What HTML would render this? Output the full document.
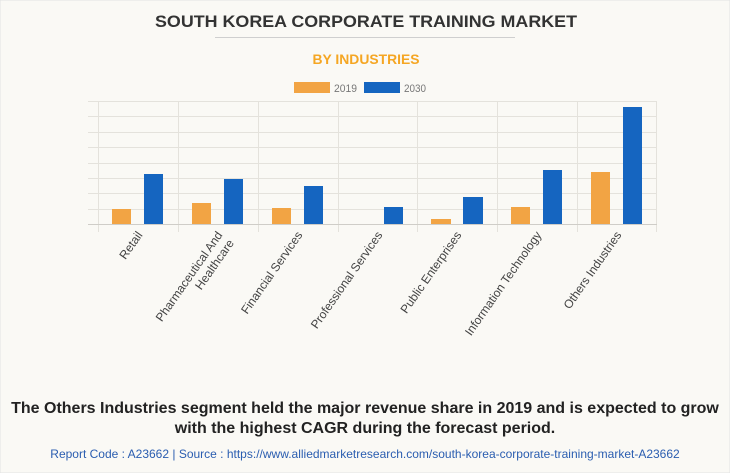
<!DOCTYPE html>
<html><head><meta charset="utf-8"><style>
body{margin:0;background:#fff}
svg{display:block}
text{font-family:"Liberation Sans",Arial,sans-serif}
</style></head><body>
<svg width="730" height="473" viewBox="0 0 730 473" xmlns="http://www.w3.org/2000/svg">
<rect x="0" y="0" width="730" height="473" fill="#faf9f5" stroke="#e2e2e2"/>
<text x="366" y="27" text-anchor="middle" font-size="17" font-weight="bold" fill="#333" textLength="422" lengthAdjust="spacingAndGlyphs">SOUTH KOREA CORPORATE TRAINING MARKET</text>
<line x1="215" y1="37.5" x2="515" y2="37.5" stroke="#cfcfcf" stroke-width="1"/>
<text x="366" y="64" text-anchor="middle" font-size="14" font-weight="bold" fill="#f5a623" textLength="107" lengthAdjust="spacingAndGlyphs">BY INDUSTRIES</text>
<rect x="294" y="82" width="36" height="11" fill="#f2a444"/>
<text x="334" y="92" font-size="11" fill="#777" textLength="23" lengthAdjust="spacingAndGlyphs">2019</text>
<rect x="364" y="82" width="36" height="11" fill="#1565c0"/>
<text x="404" y="92" font-size="11" fill="#777" textLength="22" lengthAdjust="spacingAndGlyphs">2030</text>
<g stroke="#e4e2dc" stroke-width="1">
<line x1="88" y1="101.5" x2="657" y2="101.5"/>
<line x1="88" y1="116.5" x2="657" y2="116.5"/>
<line x1="88" y1="132.5" x2="657" y2="132.5"/>
<line x1="88" y1="147.5" x2="657" y2="147.5"/>
<line x1="88" y1="163.5" x2="657" y2="163.5"/>
<line x1="88" y1="178.5" x2="657" y2="178.5"/>
<line x1="88" y1="193.5" x2="657" y2="193.5"/>
<line x1="88" y1="209.5" x2="657" y2="209.5"/>
<line x1="98.5" y1="101" x2="98.5" y2="232"/>
<line x1="178.5" y1="101" x2="178.5" y2="232"/>
<line x1="258.5" y1="101" x2="258.5" y2="232"/>
<line x1="338.5" y1="101" x2="338.5" y2="232"/>
<line x1="417.5" y1="101" x2="417.5" y2="232"/>
<line x1="497.5" y1="101" x2="497.5" y2="232"/>
<line x1="577.5" y1="101" x2="577.5" y2="232"/>
<line x1="656.5" y1="101" x2="656.5" y2="232"/>
</g>
<line x1="88" y1="224.5" x2="657" y2="224.5" stroke="#cfcdc8"/>
<g fill="#f2a444">
<rect x="112" y="209" width="19" height="15"/>
<rect x="192" y="203" width="19" height="21"/>
<rect x="272" y="208" width="19" height="16"/>
<rect x="431" y="219" width="20" height="5"/>
<rect x="511" y="207" width="19" height="17"/>
<rect x="591" y="172" width="19" height="52"/>
</g>
<g fill="#1565c0">
<rect x="144" y="174" width="19" height="50"/>
<rect x="224" y="179" width="19" height="45"/>
<rect x="304" y="186" width="19" height="38"/>
<rect x="384" y="207" width="19" height="17"/>
<rect x="463" y="197" width="20" height="27"/>
<rect x="543" y="170" width="19" height="54"/>
<rect x="623" y="107" width="19" height="117"/>
</g>
<g font-size="12" fill="#444" text-anchor="end">
<text transform="translate(143,235) rotate(-55)">Retail</text>
<text transform="translate(223,235) rotate(-55)">Pharmaceutical And<tspan x="0" dy="14">Healthcare</tspan></text>
<text transform="translate(303,235) rotate(-55)">Financial Services</text>
<text transform="translate(383,235) rotate(-55)">Professional Services</text>
<text transform="translate(462,235) rotate(-55)">Public Enterprises</text>
<text transform="translate(542,235) rotate(-55)">Information Technology</text>
<text transform="translate(622,235) rotate(-55)">Others Industries</text>
</g>
<text x="365" y="413" text-anchor="middle" font-size="16" font-weight="bold" fill="#222">The Others Industries segment held the major revenue share in 2019 and is expected to grow</text>
<text x="365" y="433" text-anchor="middle" font-size="16" font-weight="bold" fill="#222">with the highest CAGR during the forecast period.</text>
<text x="365" y="458" text-anchor="middle" font-size="12" fill="#2a5db0">Report Code : A23662  |  Source : https://www.alliedmarketresearch.com/south-korea-corporate-training-market-A23662</text>
</svg>
</body></html>
